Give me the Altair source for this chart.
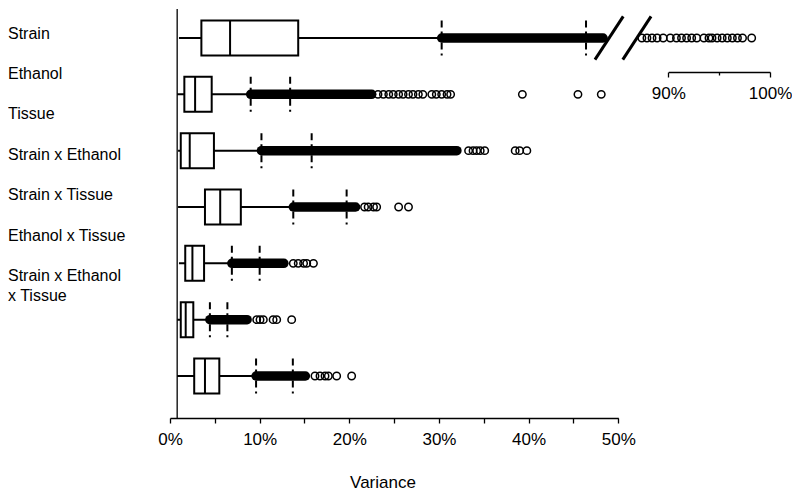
import altair as alt
import pandas as pd

# ---------------- data ----------------
ROWS = ["Strain", "Ethanol", "Tissue", "Strain x Ethanol",
        "Strain x Tissue", "Ethanol x Tissue", "Strain x Ethanol x Tissue"]
LABELS = ["Strain", "Ethanol", "Tissue", "Strain x Ethanol",
          "Strain x Tissue", "Ethanol x Tissue", "Strain x Ethanol\nx Tissue"]

WHISK_LO = [1.0, 0.8, 0.9, 0.9, 1.0, 0.8, 0.8]
Q1 = [3.5, 1.6, 1.2, 3.9, 1.7, 1.2, 2.7]
MEDIAN = [6.7, 2.8, 2.2, 5.6, 2.5, 1.75, 3.9]
Q3 = [14.3, 4.65, 4.9, 7.9, 3.8, 2.6, 5.5]
CUT_1 = [30.3, 9.0, 10.2, 13.75, 6.9, 4.45, 9.6]     # first dashed threshold
CUT_2 = [46.4, 13.4, 15.8, 19.7, 10.0, 6.4, 13.7]    # second dashed threshold
DENSE_END = [48.3, 22.5, 32.0, 20.7, 12.7, 8.6, 15.1]  # end of the dense run of outliers

OUTLIERS = [
    [],
    [23.2, 23.8, 24.4, 24.9, 25.5, 26.0, 26.6, 27.1, 27.7, 28.2,
     29.2, 29.7, 30.3, 30.9, 31.3, 39.3, 45.5, 48.1],
    [33.3, 33.8, 34.2, 34.6, 35.1, 38.5, 39.0, 39.8],
    [21.7, 22.1, 22.7, 23.05, 25.5, 26.6],
    [13.75, 14.3, 14.9, 15.25, 16.0],
    [9.67, 10.04, 10.41, 11.5, 11.9, 13.57],
    [16.17, 16.73, 17.29, 17.66, 18.59, 20.26],
]
# Strain outliers shown beyond the axis break (90%-100% segment)
STRAIN_HIGH = [87.4, 87.9, 88.4, 88.9, 89.5, 90.2, 90.8, 91.3, 91.8, 92.3,
               92.8, 93.5, 94.0, 94.3, 94.8, 95.3, 95.8, 96.3, 96.8, 97.3, 98.2]

MAIN_TICKS = [0, 5, 10, 15, 20, 25, 30, 35, 40, 45, 50]
BREAK_TICKS = [90, 95, 100]
BREAK_MARKS = [47.4, 50.5]   # left ends of the two "//" axis-break strokes

# ---------------- tables ----------------
H = 0.31
rows = pd.DataFrame({
    "idx": list(range(len(ROWS))), "row": ROWS, "lo": WHISK_LO, "q1": Q1,
    "med": MEDIAN, "q3": Q3, "c1": CUT_1, "c2": CUT_2, "dend": DENSE_END,
})
rows["top"] = rows["idx"] - H
rows["bot"] = rows["idx"] + H

cuts = pd.DataFrame({
    "idx": list(rows["idx"]) * 2,
    "v": CUT_1 + CUT_2,
})
cuts["top"] = cuts["idx"] - H
cuts["bot"] = cuts["idx"] + H

out_idx, out_val = [], []
for i, vals in enumerate(OUTLIERS):
    out_idx += [i] * len(vals)
    out_val += vals
outs = pd.DataFrame({"idx": out_idx, "v": out_val})
high = pd.DataFrame({"idx": [0] * len(STRAIN_HIGH), "v": STRAIN_HIGH})
brk = pd.DataFrame({"x": BREAK_MARKS})
brk["x2"] = brk["x"] + 3.15
brk["yb"] = 0.385
brk["yt"] = -0.385
labels = pd.DataFrame({"idx": list(range(len(LABELS))), "label": LABELS})
yline = pd.DataFrame({"x": [0.8]})

FONT = "Liberation Sans"
xs = alt.Scale(domain=[0, 50], range=[162, 610.3], nice=False, zero=False)
xb = alt.Scale(domain=[90, 100], range=[660.3, 762], nice=False, zero=False)
ys = alt.Scale(domain=[0, 6], range=[29, 367], nice=False, zero=False)
yl = alt.Scale(domain=[0, 6], range=[29.5, 272], nice=False, zero=False)

main_axis = alt.Axis(
    values=MAIN_TICKS, labelExpr="datum.value % 10 == 0 ? datum.value + '%' : ''",
    orient="bottom", offset=0, labelFlush=False, labelOverlap=False,
    grid=False, tickSize=5, tickColor="black", tickWidth=1.3,
    domainColor="black", domainWidth=1.3, labelFont=FONT, labelFontSize=17,
    labelColor="black", labelPadding=8, title="Variance", titleFont=FONT,
    titleFontSize=17, titleFontWeight="normal", titleColor="black",
    titlePadding=27, titleX=374.5,
)
break_axis = alt.Axis(
    values=BREAK_TICKS, labelExpr="datum.value == 95 ? '' : datum.value + '%'",
    grid=False, orient="bottom", offset=-346, labelFlush=False, labelOverlap=False,
    tickSize={"condition": {"test": "datum.value == 95", "value": 3}, "value": 5},
    tickColor="black", tickWidth=1.3, domainColor="black", domainWidth=1.3,
    labelFont=FONT, labelFontSize=17, labelColor="black", labelPadding=8,
    title=None,
)

Y = lambda f: alt.Y(f, type="quantitative", scale=ys, axis=None)
X = lambda f: alt.X(f, type="quantitative", scale=xs, axis=None)

y_axis_line = alt.Chart(yline).mark_rule(color="black", strokeWidth=1.3).encode(
    x=alt.X("x:Q", scale=xs, axis=main_axis))

whisker = alt.Chart(rows).mark_rule(color="black", strokeWidth=2).encode(
    x=X("lo"), x2="c1", y=Y("idx"))

box = alt.Chart(rows).mark_rect(fill="white", stroke="black", strokeWidth=2).encode(
    x=X("q1"), x2="q3", y=Y("top"), y2="bot")

median = alt.Chart(rows).mark_rule(color="black", strokeWidth=2).encode(
    x=X("med"), y=Y("top"), y2="bot")

dense = alt.Chart(rows).mark_rule(color="black", strokeWidth=9.5, strokeCap="round").encode(
    x=X("c1"), x2="dend", y=Y("idx"))

dashed = alt.Chart(cuts).mark_rule(color="black", strokeWidth=2, strokeDash=[7, 4]).encode(
    x=X("v"), y=Y("top"), y2="bot")

points = alt.Chart(outs).mark_point(shape="circle", filled=False, color="black",
                                    strokeWidth=1.5, size=55, opacity=1).encode(
    x=X("v"), y=Y("idx"))

slashes = alt.Chart(brk).mark_rule(color="black", strokeWidth=3).encode(
    x=X("x"), x2="x2", y=Y("yb"), y2="yt")

high_pts = alt.Chart(high).mark_point(shape="circle", filled=False, color="black",
                                      strokeWidth=1.5, size=55, opacity=1).encode(
    x=alt.X("v:Q", scale=xb, axis=break_axis), y=Y("idx"))

text = alt.Chart(labels).mark_text(
    align="left", baseline="alphabetic", font=FONT, fontSize=16, color="black",
    lineBreak="\n", lineHeight=20).encode(
    x=alt.value(0), y=alt.Y("idx:Q", scale=yl, axis=None), text="label:N")

chart = alt.layer(
    whisker, box, median, dense, dashed, points, slashes, high_pts, y_axis_line, text
).resolve_scale(x="independent", y="independent").properties(
    width=784, height=409, padding=0
).configure_view(stroke=None)

chart.save("out.html", embed_options={"renderer": "svg", "actions": False})
